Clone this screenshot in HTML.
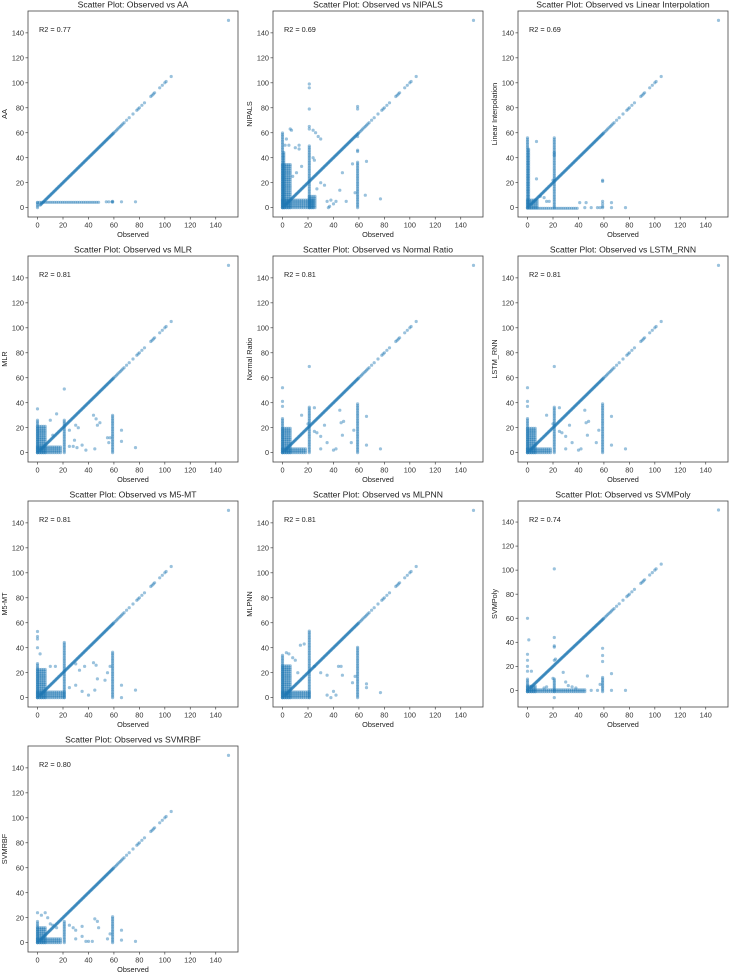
<!DOCTYPE html>
<html><head><meta charset="utf-8">
<style>
html,body{margin:0;padding:0;background:#fff;}
svg{display:block;font-family:"Liberation Sans","DejaVu Sans",sans-serif;}
</style></head>
<body>
<svg id="chart" width="729" height="974" viewBox="0 0 729 974" xmlns="http://www.w3.org/2000/svg"></svg>
<script>
// ---- data ----
const panelNames = ["AA","NIPALS","Linear Interpolation","MLR","Normal Ratio","LSTM_RNN","M5-MT","MLPNN","SVMPoly","SVMRBF"];
const r2Values = ["0.77","0.69","0.69","0.81","0.81","0.81","0.81","0.81","0.74","0.80"];
const xTicks = [0,20,40,60,80,100,120,140];
const yTicks = [0,20,40,60,80,100,120,140];
const diagDenseRange = [2,60];
const diagSparse = [61,62,63,64,65,66,67,68,70,72,75,78,79,80,82,84,89,90,91,92,96,98,100,101,105,150];
// streaks: [x, ymin, ymax]
const streaks = [
 [[0,0,5]],
 [[0,0,61],[1,0,45],[21,0,50],[59,0,37]],
 [[0,0,57],[0.8,0,48],[21,0,56]],
 [[0,0,27],[21,0,27],[59,0,31]],
 [[0,0,28],[21,0,37],[59,0,40]],
 [[0,0,28],[21,0,37],[59,0,40]],
 [[0,0,28],[21,0,45],[59,0,37]],
 [[0,0,35],[21,0,54],[59,0,41]],
 [[0,-1,10],[21,-1,10],[59,-1,12]],
 [[0,0,17],[21,0,18],[59,0,22]]
];
// dense blobs: [x0,x1,y0,y1]
const blobs = [
 [[0,48,4.3,5.0]],
 [[0,6,0,35],[0,25,0,6],[21,26,0,10]],
 [[0,8,0,7],[0,40,-0.5,0.5]],
 [[0,7,0,22],[0,18,0,5]],
 [[0,7,0,20],[0,18,0,4]],
 [[0,7,0,20],[0,18,0,4]],
 [[0,7,0,23],[0,22,0,5]],
 [[0,7,0,26],[0,22,0,5]],
 [[0,45,-1,0.8],[0,7,-1,4]],
 [[0,7,0,13],[0,18,0,3]]
];
// scattered points: [observed, predicted]
const scatter = [
 [[54,4.7],[56,4.7],[58.5,4.7],[59,4.4],[59,5],[66,4.7],[77,4.7]],
 [[21,99],[21,96],[21,79],[21,65],[21,63],[59,81],[59,79],[59,57],[59,46],[59,45],[6,63],[7,62],[5,50],[10,48],[13,47],[13,50],[15,33],[8,25],[11,28],[24,62],[26,60],[28,57],[30,55],[24,40],[25,38],[27,15],[30,20],[33,18],[35,5],[38,6],[40,3],[42,5],[45,14],[47,28],[50,5],[55,35],[57,12],[66,37],[65,10],[77,7],[36,0],[37,1],[3,55],[2,50]],
 [[7,53],[7,23],[21,44],[21,42],[41,4],[46,4],[59,5],[59,3],[59,1],[59,0],[66,4],[66,0],[77,0],[59,22],[59,21],[20,22],[15,5],[17,5],[13,8],[10,9],[45,0],[50,0],[55,0],[57,0]],
 [[0,35],[21,51],[15,31],[44,30],[46,27],[47,22],[49,24],[30,22],[32,20],[25,18],[29,10],[35,6],[38,2],[45,3],[55,12],[57,12],[56,8],[66,18],[66,9],[77,4],[10,26],[12,14],[25,5],[28,5],[31,4]],
 [[0,52],[0,41],[0,37],[21,69],[15,30],[25,36],[33,22],[45,34],[46,24],[48,25],[47,14],[54,8],[56,18],[66,29],[66,6],[77,3],[30,13],[35,8],[40,2],[42,3],[30,3],[27,16],[25,17],[20,23]],
 [[0,52],[0,41],[0,37],[21,69],[15,30],[25,36],[33,22],[45,34],[46,24],[48,25],[47,14],[54,8],[56,18],[66,29],[66,6],[77,3],[30,13],[35,8],[40,2],[42,3],[30,3],[27,16],[25,17],[20,23]],
 [[0,53],[0,49],[0,47],[0,40],[2,35],[10,25],[14,25],[30,27],[33,22],[37,25],[44,28],[46,26],[47,15],[53,14],[55,20],[57,25],[66,10],[66,0],[77,6],[30,10],[35,5],[40,2],[45,6],[25,8]],
 [[3,36],[5,35],[10,30],[14,42],[17,43],[25,25],[30,20],[35,18],[44,25],[46,25],[47,18],[55,12],[57,17],[66,11],[66,8],[77,4],[35,2],[38,0],[40,5],[42,2],[12,20],[8,32]],
 [[0,60],[1,42],[0,30],[0,25],[0,20],[0,16],[3,16],[21,101],[21,44],[21,37],[21,36],[21,25],[21,-6],[22,26],[13,2],[15,3],[20,10],[28,15],[30,7],[32,4],[35,3],[38,2],[47,12],[50,0],[55,0],[57,5],[59,35],[59,29],[59,24],[66,14],[66,0],[77,0]],
 [[0,24],[3,22],[6,24],[8,20],[10,15],[12,14],[15,12],[25,14],[28,12],[30,10],[35,13],[35,5],[40,1],[45,19],[47,17],[48,12],[55,3],[57,7],[66,10],[66,2],[77,1],[30,3],[38,1],[43,1]]
];
const yMins = [-7.5,-7.5,-7.5,-7.5,-7.5,-7.5,-7.5,-7.5,-13.8,-7.5];

// ---- layout ----
const NS="http://www.w3.org/2000/svg";
const svg=document.getElementById('chart');
const colLeft=[28,273,518], rowTop=[11,256,501,746], W=210, H=206;
const XMIN=-7.5, XMAX=157.5, YMAX=157.5;
function mk(tag,attrs,parent){const e=document.createElementNS(NS,tag);for(const k in attrs)e.setAttribute(k,attrs[k]);parent.appendChild(e);return e;}

panelNames.forEach((name,i)=>{
  const L=colLeft[i%3], T=rowTop[Math.floor(i/3)], ymin=yMins[i];
  const sx=v=>L+(v-XMIN)/(XMAX-XMIN)*W;
  const sy=v=>T+H-(v-ymin)/(YMAX-ymin)*H;
  const g=mk('g',{},svg);
  
  
  const pts=mk('g',{fill:'#1f77b4','fill-opacity':'0.45'},g);
  
  
  const dot=(x,y)=>{mk('circle',{cx:sx(x).toFixed(1),cy:sy(y).toFixed(1),r:1.6},pts);};
  for(let v=diagDenseRange[0];v<=diagDenseRange[1];v+=0.5)dot(v,v);
  diagSparse.forEach(v=>dot(v,v));
  streaks[i].forEach(s=>{for(let y=s[1];y<=s[2];y+=1.3)dot(s[0],y);});
  blobs[i].forEach(b=>{for(let x=b[0];x<=b[1];x+=1.5)for(let y=b[2];y<=b[3];y+=1.5)dot(x,y);});
  scatter[i].forEach(p=>dot(p[0],p[1]));
  const box=mk('rect',{x:L,y:T,width:W,height:H,fill:'none',stroke:'#444','stroke-width':0.8},g);
  
  
  xTicks.forEach(t=>{
    const x=sx(t);
    mk('line',{x1:x,x2:x,y1:T+H,y2:T+H+2.5,stroke:'#444','stroke-width':0.7},g);
    const tx=mk('text',{x:x,y:T+H+10.5,'font-size':7.3,'text-anchor':'middle',fill:'#333'},g);
    tx.textContent=t;
    
    
  });
  yTicks.forEach(t=>{
    const y=sy(t);
    mk('line',{x1:L,x2:L-2.5,y1:y,y2:y,stroke:'#444','stroke-width':0.7},g);
    const tx=mk('text',{x:L-4,y:y+2.6,'font-size':7.3,'text-anchor':'end',fill:'#333'},g);
    tx.textContent=t;
    
    
  });
  const title=mk('text',{x:L+W/2,y:T-3.5,'font-size':8.6,'text-anchor':'middle',fill:'#222'},g);
  title.textContent='Scatter Plot: Observed vs '+name;
  
  
  const xl=mk('text',{x:L+W/2,y:T+H+20,'font-size':7.3,'text-anchor':'middle',fill:'#222'},g);
  xl.textContent='Observed';
  
  
  const yl=mk('text',{x:0,y:0,'font-size':7.3,'text-anchor':'middle',fill:'#222',transform:`translate(${L-21},${T+H/2}) rotate(-90)`},g);
  yl.textContent=name;
  
  
  const r2=mk('text',{x:L+11,y:T+21,'font-size':7.3,fill:'#222'},g);
  r2.textContent='R2 = '+r2Values[i];
  
  
});
</script>
</body></html>
